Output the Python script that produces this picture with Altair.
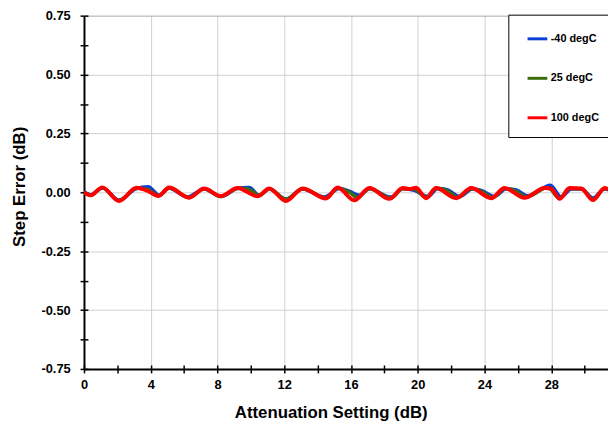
import altair as alt
import pandas as pd

series_names = ["-40 degC", "25 degC", "100 degC"]
series_colors = ["#0a3fd6", "#3a6e0a", "#ff0000"]
series_widths = [3.5, 3.5, 4]

x_m40 = [0.0, 0.4, 1.1, 2.1, 3.1, 3.85, 4.5, 5.1, 6.2, 7.2, 8.2, 9.2, 9.9, 10.5, 11.1, 12.1,
         13.1, 14.4, 15.3, 15.9, 16.5, 17.1, 18.4, 19.1, 19.8, 20.6, 21.2, 21.8, 22.5, 23.3,
         23.8, 24.6, 25.3, 25.9, 26.6, 27.95, 28.6, 29.2, 29.8, 30.5, 31.2, 31.5]
y_m40 = [0.003, -0.010, 0.018, -0.033, 0.015, 0.024, -0.012, 0.017, -0.020, 0.014, -0.018, 0.016,
         0.020, -0.012, 0.014, -0.028, 0.014, -0.020, 0.016, 0.005, -0.012, 0.015, -0.020, 0.015,
         0.008, -0.018, 0.016, 0.010, -0.018, 0.015, 0.008, -0.018, 0.015, 0.010, -0.015, 0.030,
         -0.020, 0.014, 0.014, -0.024, 0.014, 0.010]

x_25 = [0.0, 0.4, 1.1, 2.1, 3.15, 3.8, 4.5, 5.1, 6.3, 7.2, 8.2, 9.2, 9.9, 10.5, 11.1, 12.1,
        13.1, 14.5, 15.2, 15.9, 16.4, 17.1, 18.4, 19.1, 19.8, 20.5, 21.1, 21.8, 22.4, 23.2,
        23.8, 24.5, 25.2, 25.9, 26.5, 27.8, 28.5, 29.1, 29.8, 30.5, 31.2, 31.5]
y_25 = [0.002, -0.012, 0.019, -0.035, 0.017, 0.012, -0.015, 0.018, -0.022, 0.015, -0.018, 0.017,
        0.012, -0.015, 0.015, -0.030, 0.015, -0.024, 0.017, 0.000, -0.022, 0.016, -0.025, 0.016,
        0.014, -0.022, 0.017, 0.005, -0.022, 0.016, 0.004, -0.022, 0.016, 0.004, -0.020, 0.020,
        -0.025, 0.016, 0.015, -0.030, 0.016, 0.010]

x_100 = [0.0, 0.4, 1.1, 2.1, 3.15, 3.85, 4.45, 5.1, 6.3, 7.2, 8.2, 9.2, 10.4, 11.1, 12.1, 13.1,
         14.5, 15.2, 16.2, 17.1, 18.3, 19.1, 19.5, 19.9, 20.5, 21.1, 22.3, 23.2, 24.4, 25.2,
         26.4, 27.6, 28.0, 28.5, 29.1, 29.8, 30.5, 31.2, 31.5]
y_100 = [0.000, -0.013, 0.021, -0.037, 0.019, 0.005, -0.016, 0.020, -0.023, 0.016, -0.016, 0.018,
         -0.017, 0.016, -0.037, 0.016, -0.026, 0.020, -0.034, 0.018, -0.028, 0.018, 0.014, 0.019,
         -0.025, 0.018, -0.025, 0.018, -0.025, 0.018, -0.023, 0.018, 0.015, -0.028, 0.018, 0.016,
         -0.033, 0.018, 0.010]

x_ticks = list(range(0, 31, 2))
y_ticks = [-0.75 + 0.125 * i for i in range(13)]

rows = []
for name, xs, ys in [(series_names[0], x_m40, y_m40),
                     (series_names[1], x_25, y_25),
                     (series_names[2], x_100, y_100)]:
    for xv, yv in zip(xs, ys):
        rows.append({"series": name, "att": xv, "err": yv})
df = pd.DataFrame(rows)

FONT = "Liberation Sans"
is_quarter = "abs(datum.value*4 - round(datum.value*4)) < 0.001"

x_scale = alt.Scale(domain=[0, 31.4], nice=False, zero=False)
y_scale = alt.Scale(domain=[-0.75, 0.75], nice=False)

x_axis = alt.Axis(
    values=x_ticks,
    labelExpr="datum.value % 4 === 0 ? datum.label : ''",
    tickSize=4, tickColor="black", tickWidth=1.5,
    domainColor="black", domainWidth=2,
    labelFont=FONT, labelFontSize=13, labelFontWeight="bold", labelColor="black",
    labelPadding=6, labelFlush=False,
    gridColor="#d0d0d0", gridWidth=1,
    gridOpacity={"condition": {"test": "datum.value % 4 === 0 && datum.value > 0", "value": 1}, "value": 0},
    title="Attenuation Setting (dB)",
    titleFont=FONT, titleFontSize=17, titleFontWeight="bold", titleColor="black",
    titleX=250, titleY=44, titleBaseline="middle", titleAlign="center",
)
y_axis = alt.Axis(
    values=y_ticks,
    labelExpr=is_quarter + " ? replace(format(datum.value, '.2f'), '\u2212', '-') : ''",
    tickSize=4, tickColor="black", tickWidth=1.5,
    domainColor="black", domainWidth=2,
    labelFont=FONT, labelFontSize=13, labelFontWeight="bold", labelColor="black",
    labelPadding=10, labelFlush=False,
    gridColor={"condition": {"test": "datum.value > 0.7", "value": "#a8a8a8"}, "value": "#d0d0d0"},
    gridWidth=1,
    gridOpacity={"condition": {"test": is_quarter, "value": 1}, "value": 0},
    title="Step Error (dB)",
    titleFont=FONT, titleFontSize=17, titleFontWeight="bold", titleColor="black",
    titleX=-65, titleY=173, titleBaseline="middle", titleAlign="center", titleAngle=270,
)

legend = alt.Legend(
    orient="none", legendX=430, legendY=-1,
    symbolType="stroke", symbolSize=400, symbolStrokeWidth=3,
    labelFont=FONT, labelFontSize=11, labelFontWeight="bold", labelColor="black",
    labelOffset=2, rowPadding=22, padding=13, symbolOffset=5,
    strokeColor="black", fillColor="white", cornerRadius=0,
)

base = alt.Chart(df).encode(
    x=alt.X("att:Q", scale=x_scale, axis=x_axis),
    y=alt.Y("err:Q", scale=y_scale, axis=y_axis),
    color=alt.Color("series:N", title=None,
                    scale=alt.Scale(domain=series_names, range=series_colors),
                    legend=legend),
)

layers = []
for name, w in zip(series_names, series_widths):
    layers.append(
        base.transform_filter(alt.datum.series == name)
        .mark_line(interpolate="monotone", strokeWidth=w, clip=True)
    )
lines = alt.layer(*layers)

ticks_in = alt.Chart(df).mark_line(opacity=0).encode(
    x=alt.X("att:Q", scale=x_scale, title="",
            axis=alt.Axis(orient="bottom", offset=-4, values=x_ticks, labels=False,
                          domain=False, grid=False, tickSize=4, tickColor="black",
                          tickWidth=1.5)),
    y=alt.Y("err:Q", scale=y_scale, title="",
            axis=alt.Axis(orient="left", offset=-4, values=y_ticks, labels=False,
                          domain=False, grid=False, tickSize=4, tickColor="black",
                          tickWidth=1.5)),
)

chart = alt.layer(lines, ticks_in).resolve_axis(x="independent", y="independent").properties(
    width=531, height=358,
    autosize=alt.AutoSizeParams(type="none"),
    padding={"left": 77, "top": 5, "right": 0, "bottom": 50},
).configure_view(stroke=None)

chart.save("out.html", embed_options={"renderer": "svg", "actions": False})
